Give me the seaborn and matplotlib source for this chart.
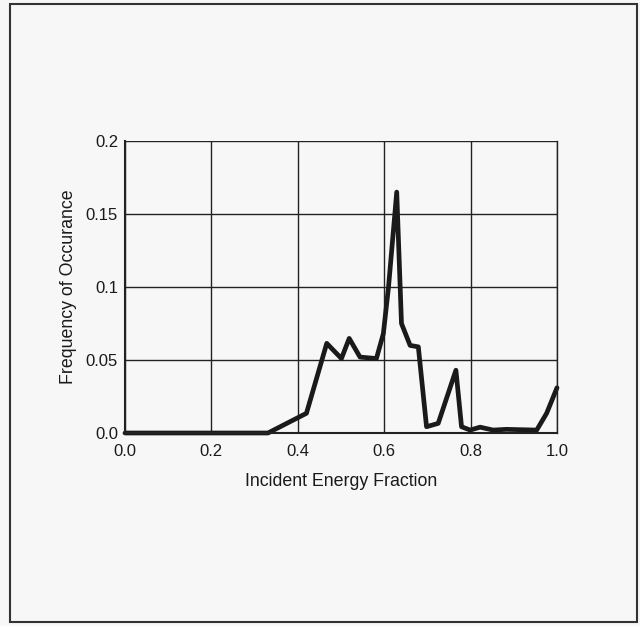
import numpy as np
import pandas as pd
import matplotlib
matplotlib.use("Agg")
import matplotlib.pyplot as plt
import seaborn as sns
from matplotlib.patches import Rectangle

# values
energy = [0.0, 0.10, 0.20, 0.30, 0.331, 0.42, 0.467, 0.501, 0.519, 0.544, 0.582,
          0.598, 0.61, 0.629, 0.640, 0.66, 0.679, 0.698, 0.725, 0.766, 0.779,
          0.799, 0.822, 0.852, 0.883, 0.953, 0.976, 1.0]
freq = [0.0, 0.0, 0.0, 0.0, 0.0, 0.0135, 0.0614, 0.051, 0.0648, 0.052, 0.051,
        0.068, 0.100, 0.165, 0.075, 0.060, 0.059, 0.0043, 0.0066, 0.043, 0.0043,
        0.002, 0.004, 0.002, 0.0025, 0.002, 0.0135, 0.031]

df = pd.DataFrame({'energy': energy, 'freq': freq})

sns.set_style('white')
plt.rcParams['font.family'] = ['Liberation Sans', 'DejaVu Sans']

fig = plt.figure(figsize=(6.4, 6.26), dpi=100)
fig.patch.set_facecolor('#f7f7f7')
fig.patches.append(Rectangle((10/640, 4/626), 627/640, 618/626, transform=fig.transFigure,
                             fill=False, edgecolor='#333333', linewidth=1.5))

ax = fig.add_axes([125/640, 1 - 433/626, 432/640, 292/626])
ax.set_facecolor('#f7f7f7')
sns.lineplot(data=df, x='energy', y='freq', color='#1a1a1a', linewidth=3.4, ax=ax)
for ln in ax.lines:
    ln.set_clip_on(False)

ax.set_xlim(0, 1.0)
ax.set_ylim(0, 0.2)
ax.set_xticks([0.0, 0.2, 0.4, 0.6, 0.8, 1.0])
ax.set_xticklabels(['0.0', '0.2', '0.4', '0.6', '0.8', '1.0'])
ax.set_yticks([0.0, 0.05, 0.1, 0.15, 0.2])
ax.set_yticklabels(['0.0', '0.05', '0.1', '0.15', '0.2'])
ax.set_xticks(np.arange(0.1, 1.0, 0.2), minor=True)
ax.set_yticks([0.025, 0.075, 0.125, 0.175], minor=True)
ax.tick_params(axis='x', which='major', length=0, labelsize=12, colors='#1a1a1a', pad=8)
ax.tick_params(axis='y', which='major', length=0, labelsize=12, colors='#1a1a1a', pad=5)
ax.tick_params(axis='both', which='minor', length=5, direction='in', color='#333333')
ax.grid(True, which='major', color='#222222', linewidth=1.0)

ax.spines['top'].set_visible(False)
ax.spines['right'].set_color('#222222')
ax.spines['right'].set_linewidth(1.0)
for s in ['left', 'bottom']:
    ax.spines[s].set_color('#222222')
    ax.spines[s].set_linewidth(1.5)

ax.set_xlabel('Incident Energy Fraction', fontsize=12.8, color='#1a1a1a', labelpad=10)
ax.set_ylabel('Frequency of Occurance', fontsize=12.8, color='#1a1a1a', labelpad=6)

fig.savefig('out.png', dpi=100, facecolor=fig.get_facecolor())
